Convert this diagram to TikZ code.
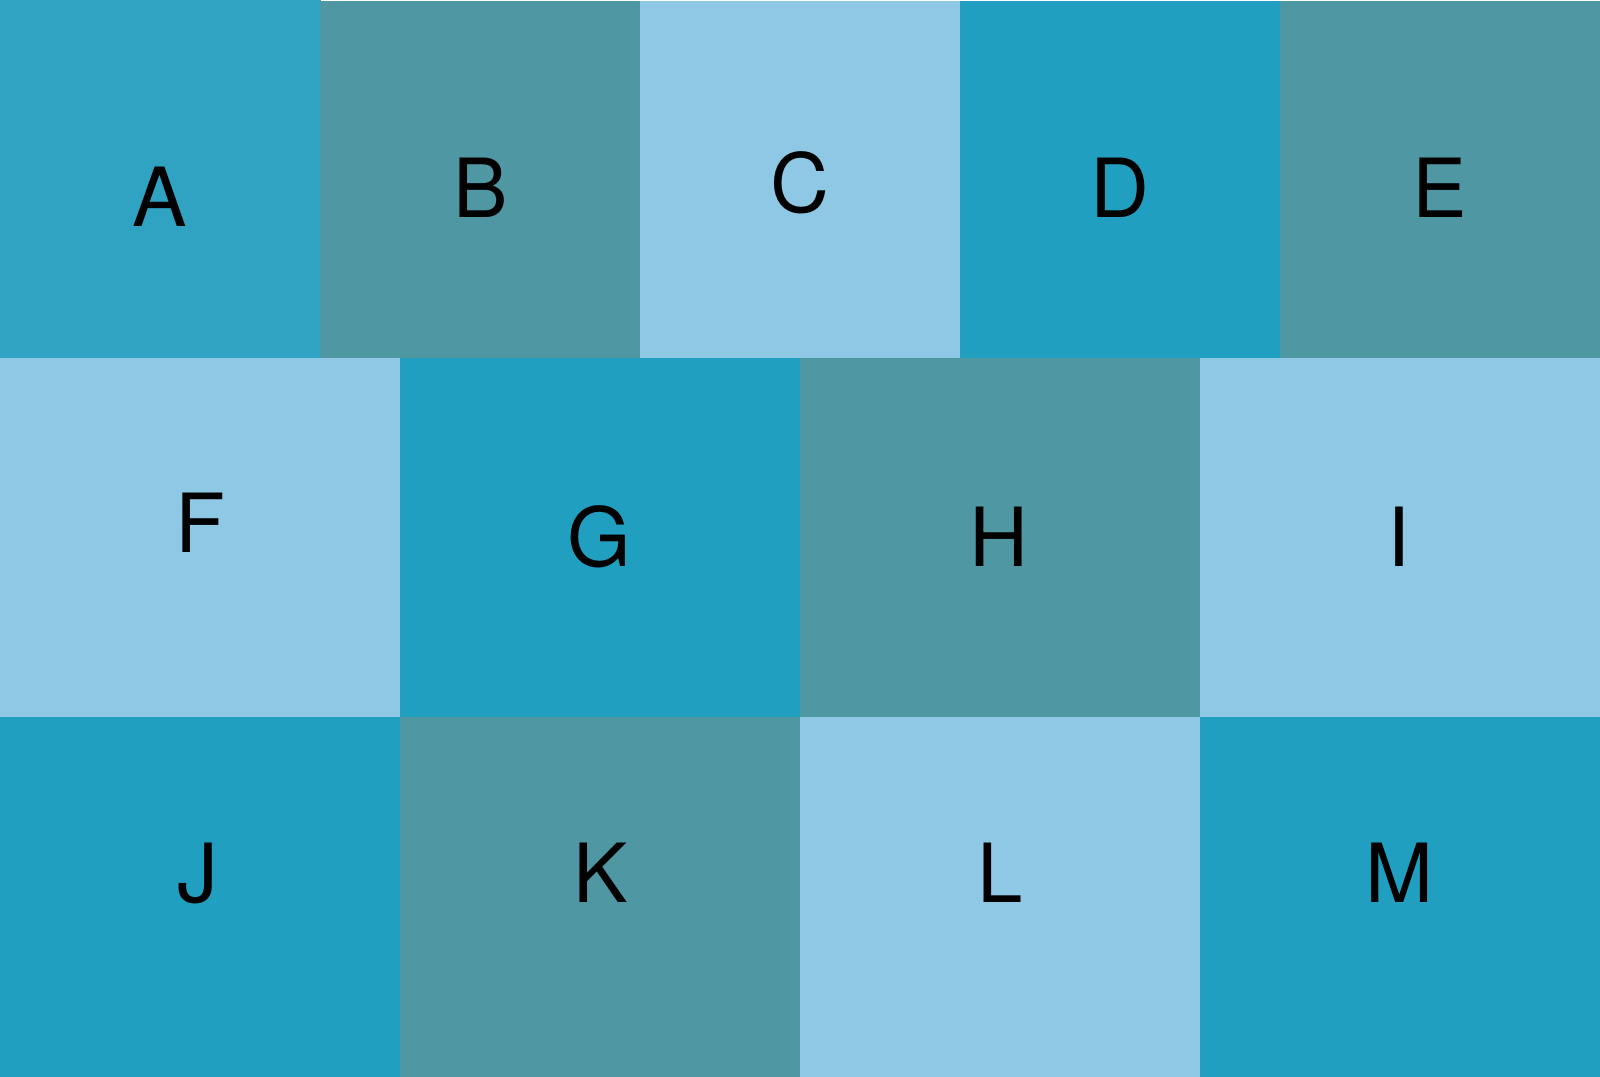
\documentclass[tikz,border=0pt]{standalone}
\usepackage{fontspec}
\setmainfont{TeX Gyre Heros}
\definecolor{cA}{HTML}{2FA3C1}
\definecolor{cD}{HTML}{219FC0}
\definecolor{cB}{HTML}{4F97A3}
\definecolor{cC}{HTML}{8FC8E5}
\tikzset{
  lbl/.style={anchor=base,inner sep=0pt,text=black,font=\fontsize{23.2pt}{27pt}\selectfont},
}
\begin{document}
\begin{tikzpicture}[x=0.01cm,y=-0.01cm]
\useasboundingbox (0,0) rectangle (1600,1077);
\fill[white] (0,0) rectangle (1600,1077);
% row 1
\fill[cA] (0,0) rectangle (320.5,358.5);
\fill[cB] (320,1) rectangle (640.5,358.5);
\fill[cC] (640,1) rectangle (960.5,358.5);
\fill[cD] (960,1) rectangle (1280.5,358.5);
\fill[cB] (1280,1) rectangle (1600,358.5);
% row 2
\fill[cC] (0,358) rectangle (400.5,717.5);
\fill[cD] (400,358) rectangle (800.5,717.5);
\fill[cB] (800,358) rectangle (1200.5,717.5);
\fill[cC] (1200,358) rectangle (1600,717.5);
% row 3
\fill[cD] (0,717) rectangle (400.5,1077);
\fill[cB] (400,717) rectangle (800.5,1077);
\fill[cC] (800,717) rectangle (1200.5,1077);
\fill[cD] (1200,717) rectangle (1600,1077);
% labels
\node[lbl] (lA) at (160,227) {A};
\node[lbl] (lB) at (481,217.5) {B};
\node[lbl] (lC) at (800,212.5) {C};
\node[lbl] (lD) at (1120,217.5) {D};
\node[lbl] (lE) at (1440,217.5) {E};
\node[lbl] (lF) at (200,553) {F};
\node[lbl] (lG) at (599,566.5) {G};
\node[lbl] (lH) at (999,566.5) {H};
\node[lbl] (lI) at (1399,566.5) {I};
\node[lbl] (lJ) at (198,902.5) {J};
\node[lbl] (lK) at (601,902.5) {K};
\node[lbl] (lL) at (1000,902.5) {L};
\node[lbl] (lM) at (1399,902.5) {M};
\end{tikzpicture}
\end{document}
